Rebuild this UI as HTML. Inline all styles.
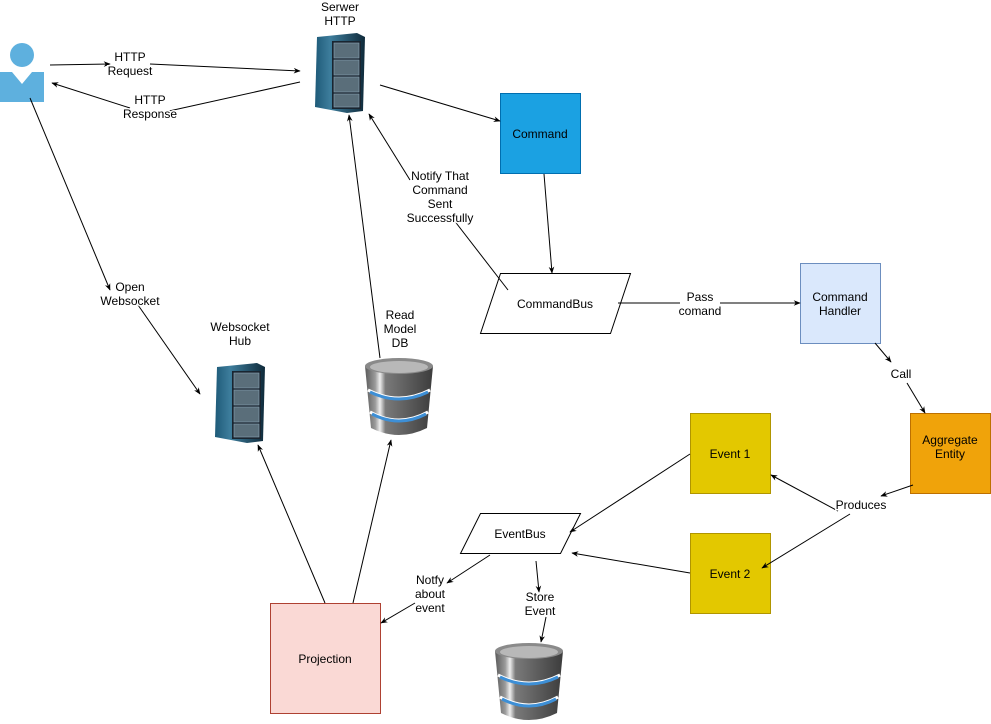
<!DOCTYPE html>
<html><head><meta charset="utf-8"><style>body{margin:0;background:#fff}svg{display:block}text{font-family:"Liberation Sans",sans-serif;font-size:12px;fill:#000;text-anchor:middle}</style></head><body>
<svg width="991" height="724" viewBox="0 0 991 724" xmlns="http://www.w3.org/2000/svg">
<defs>
<marker id="a" viewBox="0 0 10 10" refX="9" refY="5" markerWidth="7" markerHeight="7" orient="auto"><path d="M0,1 L10,5 L0,9 L3,5z" fill="#000"/></marker>
<linearGradient id="srv" x1="0" x2="1"><stop offset="0" stop-color="#1e5a78"/><stop offset=".3" stop-color="#3d7d9c"/><stop offset="1" stop-color="#0f2a3a"/></linearGradient>
<linearGradient id="db" x1="0" x2="1"><stop offset="0" stop-color="#5a5a5a"/><stop offset=".15" stop-color="#9a9a9a"/><stop offset=".22" stop-color="#eee"/><stop offset=".3" stop-color="#7a7a7a"/><stop offset="1" stop-color="#3c3c3c"/></linearGradient>
<g id="server"><path d="M2,4 L42,0 L50,4 L48,78 L32,80 L0,74z" fill="url(#srv)"/><rect x="17" y="8" width="29" height="68" fill="#1a2530"/><g fill="#5a6e7a" stroke="#8aa5b5" stroke-width=".6"><rect x="19" y="10" width="25" height="15"/><rect x="19" y="27" width="25" height="15"/><rect x="19" y="44" width="25" height="15"/><rect x="19" y="61" width="25" height="13"/></g></g>
<g id="dbi"><path d="M0,8 L68,8 L62,70 Q34,84 6,70z" fill="url(#db)"/><ellipse cx="34" cy="8" rx="34" ry="8" fill="#8a8a8a"/><ellipse cx="34" cy="9" rx="29" ry="6" fill="#b8b8b8"/><path d="M3,32 Q34,48 65,32" stroke="#fff" stroke-width="3" fill="none"/><path d="M5,34 Q34,48 63,34" stroke="#3d8fd6" stroke-width="3" fill="none"/><path d="M5,54 Q34,70 63,54" stroke="#fff" stroke-width="3" fill="none"/><path d="M7,56 Q34,70 61,56" stroke="#3d8fd6" stroke-width="3" fill="none"/></g>
</defs>
<circle cx="22" cy="55" r="12" fill="#5eb0de"/><path d="M0,72 L12,72 L22,84 L32,72 L44,72 L44,102 L0,102z" fill="#5eb0de"/>
<use href="#server" x="315" y="33"/><use href="#server" x="215" y="363"/>
<use href="#dbi" x="365" y="358"/><use href="#dbi" x="495" y="643"/>
<rect x="500.5" y="93.5" width="80" height="80" fill="#1ba1e2" stroke="#006eaf"/>
<rect x="800.5" y="263.5" width="80" height="80" fill="#dae8fc" stroke="#6c8ebf"/>
<rect x="910.5" y="413.5" width="80" height="80" fill="#f0a30a" stroke="#bd7000"/>
<rect x="690.5" y="413.5" width="80" height="80" fill="#e3c800" stroke="#b09500"/>
<rect x="690.5" y="533.5" width="80" height="80" fill="#e3c800" stroke="#b09500"/>
<rect x="270.5" y="603.5" width="110" height="110" fill="#fad9d5" stroke="#ae4132"/>
<path d="M500.5,273.5 L630.5,273.5 L610.5,333.5 L480.5,333.5z" fill="#fff" stroke="#000"/>
<path d="M480.5,513.5 L580.5,513.5 L560.5,553.5 L460.5,553.5z" fill="#fff" stroke="#000"/>
<g stroke="#000" stroke-width="1" fill="none">
<line x1="50" y1="65" x2="110" y2="64" marker-end="url(#a)"/><line x1="150" y1="64" x2="300" y2="71" marker-end="url(#a)"/>
<line x1="300" y1="82" x2="160" y2="113"/><line x1="130" y1="108" x2="52" y2="83" marker-end="url(#a)"/>
<line x1="380" y1="85" x2="500" y2="121" marker-end="url(#a)"/>
<line x1="544" y1="174" x2="552" y2="273" marker-end="url(#a)"/>
<line x1="508" y1="290" x2="450" y2="215"/><line x1="410" y1="180" x2="369" y2="114" marker-end="url(#a)"/>
<line x1="618" y1="303" x2="680" y2="303"/><line x1="720" y1="303" x2="800" y2="303" marker-end="url(#a)"/>
<line x1="875" y1="343" x2="891" y2="362" marker-end="url(#a)"/><line x1="907" y1="383" x2="925" y2="413" marker-end="url(#a)"/>
<line x1="913" y1="485" x2="881" y2="496" marker-end="url(#a)"/>
<line x1="838" y1="511" x2="771" y2="475" marker-end="url(#a)"/><line x1="850" y1="514" x2="762" y2="568" marker-end="url(#a)"/>
<line x1="690" y1="454" x2="570" y2="532" marker-end="url(#a)"/><line x1="690" y1="573" x2="572" y2="553" marker-end="url(#a)"/>
<line x1="490" y1="555" x2="447" y2="583" marker-end="url(#a)"/><line x1="415" y1="603" x2="381" y2="623" marker-end="url(#a)"/>
<line x1="536" y1="561" x2="539" y2="592" marker-end="url(#a)"/><line x1="546" y1="617" x2="541" y2="642" marker-end="url(#a)"/>
<line x1="325" y1="603" x2="258" y2="445" marker-end="url(#a)"/><line x1="353" y1="603" x2="391" y2="440" marker-end="url(#a)"/>
<line x1="380" y1="358" x2="349" y2="115" marker-end="url(#a)"/>
<line x1="30" y1="98" x2="110" y2="290" marker-end="url(#a)"/><line x1="138" y1="305" x2="200" y2="394" marker-end="url(#a)"/>
</g>
<text x="540" y="138">Command</text><text x="555" y="308">CommandBus</text>
<text x="840" y="301">Command</text><text x="840" y="315">Handler</text>
<text x="950" y="444">Aggregate</text><text x="950" y="458">Entity</text>
<text x="730" y="458">Event 1</text><text x="730" y="578">Event 2</text>
<text x="520" y="538">EventBus</text><text x="325" y="663">Projection</text>
<text x="340" y="11">Serwer</text><text x="340" y="25">HTTP</text>
<text x="240" y="331">Websocket</text><text x="240" y="345">Hub</text>
<g style="paint-order:stroke" stroke="#fff" stroke-width="3">
<text x="130" y="61">HTTP</text><text x="130" y="75">Request</text>
<text x="150" y="104">HTTP</text><text x="150" y="118">Response</text>
<text x="440" y="180">Notify That</text><text x="440" y="194">Command</text><text x="440" y="208">Sent</text><text x="440" y="222">Successfully</text>
<text x="700" y="301">Pass</text><text x="700" y="315">comand</text>
<text x="901" y="378">Call</text><text x="861" y="509">Produces</text>
<text x="430" y="584">Notfy</text><text x="430" y="598">about</text><text x="430" y="612">event</text>
<text x="540" y="601">Store</text><text x="540" y="615">Event</text>
<text x="400" y="319">Read</text><text x="400" y="333">Model</text><text x="400" y="347">DB</text>
<text x="130" y="291">Open</text><text x="130" y="305">Websocket</text>
</g>
</svg>
</body></html>
